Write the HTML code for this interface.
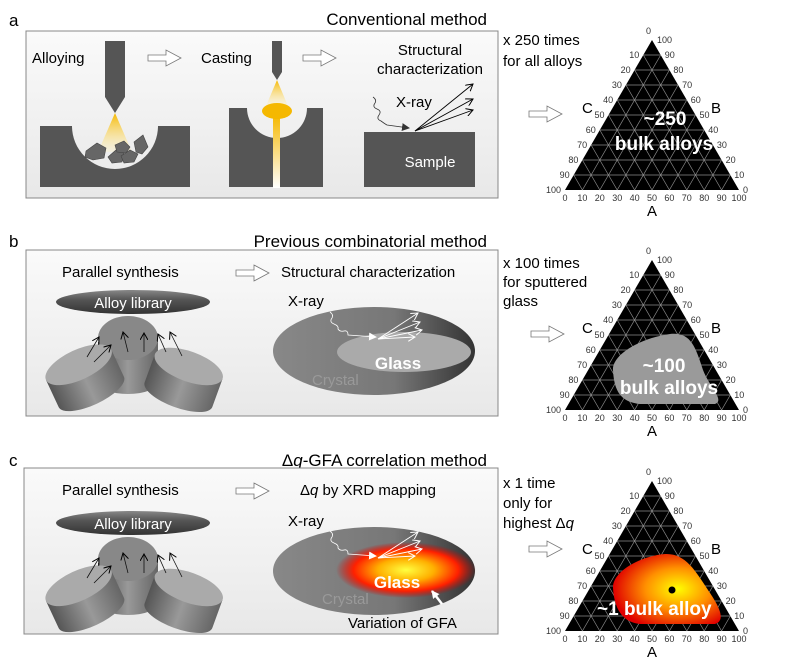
<!DOCTYPE html>
<html><head><meta charset="utf-8"><style>
html,body{margin:0;padding:0;background:#fff}
svg{display:block;font-family:"Liberation Sans",Arial,sans-serif}
</style></head><body>
<svg id="s" width="800" height="670" viewBox="0 0 800 670" xmlns="http://www.w3.org/2000/svg">
<defs>
<linearGradient id="pbg" x1="0" y1="0" x2="0" y2="1"><stop offset="0" stop-color="#fafafa"/><stop offset="1" stop-color="#e8e8e8"/></linearGradient>
<linearGradient id="cone" x1="0" y1="0" x2="0" y2="1"><stop offset="0" stop-color="#f5b800"/><stop offset="1" stop-color="#fff3c0" stop-opacity="0.3"/></linearGradient>
<linearGradient id="stream" x1="0" y1="0" x2="0" y2="1"><stop offset="0" stop-color="#f5b800"/><stop offset="1" stop-color="#fff"/></linearGradient>
<linearGradient id="lib" x1="0" y1="0" x2="0" y2="1"><stop offset="0" stop-color="#888"/><stop offset="0.4" stop-color="#555"/><stop offset="1" stop-color="#333"/></linearGradient>
<linearGradient id="cyl" x1="0" y1="0" x2="1" y2="0"><stop offset="0" stop-color="#555"/><stop offset="0.5" stop-color="#999"/><stop offset="1" stop-color="#666"/></linearGradient>
<linearGradient id="sub" x1="0" y1="0" x2="1" y2="0"><stop offset="0" stop-color="#888"/><stop offset="0.6" stop-color="#777"/><stop offset="1" stop-color="#333"/></linearGradient>
<radialGradient id="glow" cx="0.5" cy="0.5" r="0.5"><stop offset="0" stop-color="#ffff40"/><stop offset="0.4" stop-color="#ffb000"/><stop offset="0.75" stop-color="#ff2000"/><stop offset="1" stop-color="#c00" stop-opacity="0"/></radialGradient>
<radialGradient id="blob" cx="0.6" cy="0.5" r="0.6"><stop offset="0" stop-color="#ffff00"/><stop offset="0.5" stop-color="#ff9000"/><stop offset="1" stop-color="#e00000"/></radialGradient>
<marker id="ah" markerWidth="8" markerHeight="8" refX="7" refY="4" orient="auto" markerUnits="userSpaceOnUse"><path d="M0,0 L7,4 L0,8" fill="none" stroke="#000" stroke-width="1"/></marker>
<marker id="ahw" markerWidth="8" markerHeight="8" refX="7" refY="4" orient="auto" markerUnits="userSpaceOnUse"><path d="M0,0 L7,4 L0,8" fill="none" stroke="#fff" stroke-width="1"/></marker>
<marker id="ahf" markerWidth="8" markerHeight="8" refX="7" refY="4" orient="auto" markerUnits="userSpaceOnUse"><path d="M0,0 L8,4 L0,8z" fill="#fff"/></marker>
<marker id="ahd" markerWidth="8" markerHeight="8" refX="7" refY="4" orient="auto" markerUnits="userSpaceOnUse"><path d="M0,0 L8,4 L0,8z" fill="#333"/></marker>
<g id="arr"><path d="M0,5 H18 V0 L33,8 L18,16 V11 H0 Z" fill="#fff" stroke="#777" stroke-width="0.8"/></g>
</defs>

<text x="9" y="26" font-size="17">a</text>
<text x="487" y="25" font-size="17" text-anchor="end">Conventional method</text>
<rect x="26" y="31" width="472" height="167" fill="url(#pbg)" stroke="#888"/>
<text x="32" y="63" font-size="15">Alloying</text>
<path d="M105,41 H125 V97 L115,113 L105,97 Z" fill="#555"/>
<path d="M40,126 H72 A43,43 0 0 0 158,126 H190 V187 H40 Z" fill="#555"/>
<path d="M115,113 L98,152 L132,152 Z" fill="url(#cone)"/>
<g fill="#666" stroke="#444" stroke-width="0.6">
<path d="M86,151 L97,143 L106,148 L104,158 L93,160 L85,157Z"/>
<path d="M108,157 L116,150 L124,152 L122,162 L112,163Z"/>
<path d="M115,145 L124,141 L130,147 L126,153 L117,152Z"/>
<path d="M121,156 L130,150 L138,154 L134,162 L124,163Z"/>
<path d="M134,142 L143,135 L148,147 L142,154 L136,152Z"/>
</g>
<use href="#arr" x="148" y="50"/>
<text x="201" y="63" font-size="15">Casting</text>
<path d="M272,41 H282 V72 L277,80 L272,72Z" fill="#555"/>
<path d="M277,80 L266,106 L288,106Z" fill="url(#cone)"/>
<path d="M229,108 H247 A30,30 0 0 0 307,108 H323 V187 H229Z" fill="#555"/>
<rect x="273" y="115" width="7" height="73" fill="url(#stream)"/>
<ellipse cx="277" cy="111" rx="15" ry="8" fill="#f5b800"/>
<use href="#arr" x="303" y="50"/>
<text x="430" y="55" font-size="15" text-anchor="middle">Structural</text>
<text x="430" y="74" font-size="15" text-anchor="middle">characterization</text>
<rect x="364" y="132" width="111" height="55" fill="#555"/>
<text x="430" y="167" font-size="15" fill="#fff" text-anchor="middle">Sample</text>
<text x="396" y="107" font-size="15">X-ray</text>
<path d="M373,97 q4,3 2,6 q-3,4 2,6 q5,2 2,6 q-3,4 2,6 q4,3 6,4 L409,128" fill="none" stroke="#333" stroke-width="0.8" marker-end="url(#ahd)"/>
<g stroke="#000" stroke-width="0.9" marker-end="url(#ah)"><line x1="415" y1="131" x2="473" y2="84"/><line x1="415" y1="131" x2="473" y2="99"/><line x1="415" y1="131" x2="473" y2="110"/></g>
<text x="503" y="45" font-size="15">x 250 times</text>
<text x="503" y="66" font-size="15">for all alloys</text>
<use href="#arr" x="529" y="106"/>

<text x="9" y="247" font-size="17">b</text>
<text x="487" y="247" font-size="17" text-anchor="end">Previous combinatorial method</text>
<rect x="26" y="250" width="472" height="166" fill="url(#pbg)" stroke="#888"/>
<text x="62" y="277" font-size="15">Parallel synthesis</text>
<use href="#arr" x="236" y="265"/>
<text x="281" y="277" font-size="15">Structural characterization</text>
<g id="synth">
<ellipse cx="133" cy="302" rx="77" ry="12" fill="url(#lib)"/>
<text x="133" y="308" font-size="15" fill="#fff" text-anchor="middle">Alloy library</text>
<path d="M98,342 V382 A30,12 0 0 0 158,382 V342Z" fill="url(#cyl)"/>
<ellipse cx="128" cy="338" rx="30" ry="22" fill="#888"/>
<g transform="translate(82,372) rotate(-25)"><path d="M-36,-8 V22 A36,13 0 0 0 36,22 V-8Z" fill="url(#cyl)"/><ellipse cx="0" cy="-8" rx="36" ry="15" fill="#aaa"/></g>
<g transform="translate(186,374) rotate(20)"><path d="M-36,-8 V22 A36,13 0 0 0 36,22 V-8Z" fill="url(#cyl)"/><ellipse cx="0" cy="-8" rx="36" ry="15" fill="#aaa"/></g>
<g stroke="#111" stroke-width="0.8" marker-end="url(#ah)">
<line x1="87" y1="357" x2="99" y2="337"/><line x1="94" y1="362" x2="111" y2="345"/>
<line x1="128" y1="352" x2="123" y2="332"/><line x1="144" y1="352" x2="144" y2="333"/>
<line x1="166" y1="352" x2="158" y2="334"/><line x1="182" y1="356" x2="170" y2="332"/>
</g>
</g>
<ellipse cx="374" cy="351" rx="101" ry="44" fill="url(#sub)"/>
<ellipse cx="404" cy="352" rx="67" ry="20" fill="#aaa"/>
<text x="398" y="369" font-size="17" font-weight="bold" fill="#fff" text-anchor="middle">Glass</text>
<text x="312" y="385" font-size="15" fill="#999">Crystal</text>
<text x="288" y="306" font-size="15">X-ray</text>
<path d="M330,312 q4,3 2,6 q-3,4 2,6 q5,2 4,5 q2,3 6,2 q4,-1 4,4 L376,337" fill="none" stroke="#fff" stroke-width="0.8" marker-end="url(#ahf)"/>
<g stroke="#fff" stroke-width="0.9" marker-end="url(#ahw)"><line x1="378" y1="339" x2="418" y2="313"/><line x1="378" y1="339" x2="420" y2="322"/><line x1="378" y1="339" x2="422" y2="330"/><line x1="378" y1="339" x2="415" y2="337"/></g>
<text x="503" y="268" font-size="15">x 100 times</text>
<text x="503" y="287" font-size="15">for sputtered</text>
<text x="503" y="306" font-size="15">glass</text>
<use href="#arr" x="531" y="326"/>

<text x="9" y="466" font-size="17">c</text>
<text x="487" y="466" font-size="17" text-anchor="end">Δ<tspan font-style="italic">q</tspan>-GFA correlation method</text>
<rect x="24" y="468" width="474" height="166" fill="url(#pbg)" stroke="#888"/>
<text x="62" y="495" font-size="15">Parallel synthesis</text>
<use href="#arr" x="236" y="483"/>
<text x="300" y="495" font-size="15">Δ<tspan font-style="italic">q</tspan> by XRD mapping</text>
<use href="#synth" y="221"/>
<ellipse cx="374" cy="571" rx="101" ry="44" fill="url(#sub)"/>
<ellipse cx="406" cy="570" rx="70" ry="28" fill="url(#glow)"/>
<text x="397" y="588" font-size="17" font-weight="bold" fill="#fff" text-anchor="middle">Glass</text>
<text x="322" y="604" font-size="15" fill="#999">Crystal</text>
<text x="288" y="526" font-size="15">X-ray</text>
<path d="M330,531 q4,3 2,6 q-3,4 2,6 q5,2 4,5 q2,3 6,2 q4,-1 4,4 L376,556" fill="none" stroke="#fff" stroke-width="0.8" marker-end="url(#ahf)"/>
<g stroke="#fff" stroke-width="0.9" marker-end="url(#ahw)"><line x1="378" y1="558" x2="418" y2="532"/><line x1="378" y1="558" x2="420" y2="541"/><line x1="378" y1="558" x2="422" y2="549"/><line x1="378" y1="558" x2="415" y2="556"/></g>
<line x1="442" y1="604" x2="432" y2="591" stroke="#fff" stroke-width="2.5" marker-end="url(#ahf)"/>
<text x="348" y="628" font-size="15">Variation of GFA</text>
<text x="503" y="488" font-size="15">x 1 time</text>
<text x="503" y="508" font-size="15">only for</text>
<text x="503" y="528" font-size="15">highest Δ<tspan font-style="italic">q</tspan></text>
<use href="#arr" x="529" y="541"/>

<g id="tris"></g>
</svg>
<script>
(function(){
var ns="http://www.w3.org/2000/svg",g=document.getElementById("tris");
function el(n,a,t){var e=document.createElementNS(ns,n);for(var k in a)e.setAttribute(k,a[k]);if(t!=null)e.textContent=t;g.appendChild(e);return e;}
function tri(ay,extra){
 var ax=652,H=150,W=174,by=ay+H,lx=ax-W/2,rx=ax+W/2;
 el("path",{d:"M"+ax+","+ay+" L"+rx+","+by+" L"+lx+","+by+"Z",fill:"#000"});
 var d="";
 for(var k=1;k<10;k++){var f=k/10,y=ay+H*f;
  d+="M"+(ax-W/2*f)+","+y+"H"+(ax+W/2*f);
  var bx=lx+W*f;
  d+="M"+bx+","+by+"L"+(ax+W/2*f)+","+(ay+H*f);
  d+="M"+bx+","+by+"L"+(ax-W/2*(1-f))+","+(ay+H*(1-f));}
 el("path",{d:d,stroke:"#8a8a8a","stroke-width":"0.7",fill:"none"});
 extra(ax,ay);
 var fs={"font-size":"9",fill:"#333"};
 el("text",Object.assign({x:ax-6,y:ay-6},fs),"0");
 for(var k=1;k<=10;k++){var f=k/10;
  el("text",Object.assign({x:ax-W/2*f-4,y:ay+H*f+3,"text-anchor":"end"},fs),String(k*10));
  el("text",Object.assign({x:ax+W/2*f+4,y:ay+H*f+3},fs),String(100-k*10));}
 el("text",Object.assign({x:ax+5,y:ay+3},fs),"100");
 for(var k=0;k<=10;k++)el("text",Object.assign({x:lx+W*k/10,y:by+11,"text-anchor":"middle"},fs),String(k*10));
 el("text",{x:ax-70,y:ay+73,"font-size":"15"},"C");
 el("text",{x:ax+59,y:ay+73,"font-size":"15"},"B");
 el("text",{x:ax,y:by+26,"font-size":"15","text-anchor":"middle"},"A");
}
tri(40,function(ax,ay){
 el("text",{x:ax+13,y:ay+85,"font-size":"19","font-weight":"bold",fill:"#fff","text-anchor":"middle"},"~250");
 el("text",{x:ax+12,y:ay+110,"font-size":"19","font-weight":"bold",fill:"#fff","text-anchor":"middle"},"bulk alloys");
});
tri(260,function(ax,ay){
 var o=ay-260;
 el("path",{d:"M613,"+(370+o)+" C612,"+(355+o)+" 640,"+(338+o)+" 670,"+(334+o)+" C690,"+(332+o)+" 695,"+(345+o)+" 703,"+(370+o)+" C710,"+(388+o)+" 725,"+(400+o)+" 715,"+(404+o)+" L640,"+(404+o)+" C620,"+(402+o)+" 614,"+(390+o)+" 613,"+(370+o)+"Z",fill:"#9a9a9a"});
 el("text",{x:664,y:372+o,"font-size":"19","font-weight":"bold",fill:"#fff","text-anchor":"middle"},"~100");
 el("text",{x:669,y:394+o,"font-size":"19","font-weight":"bold",fill:"#fff","text-anchor":"middle"},"bulk alloys");
});
tri(481,function(ax,ay){
 el("path",{d:"M613,588 C612,572 640,556 665,554 C685,553 695,570 708,590 C716,602 728,620 715,624 L640,624 C620,622 614,605 613,588Z",fill:"url(#blob)"});
 el("circle",{cx:672,cy:590,r:3.5,fill:"#000"});
 el("text",{x:597,y:615,"font-size":"19","font-weight":"bold",fill:"#fff"},"~1 bulk alloy");
});
})();
</script>
</body></html>
